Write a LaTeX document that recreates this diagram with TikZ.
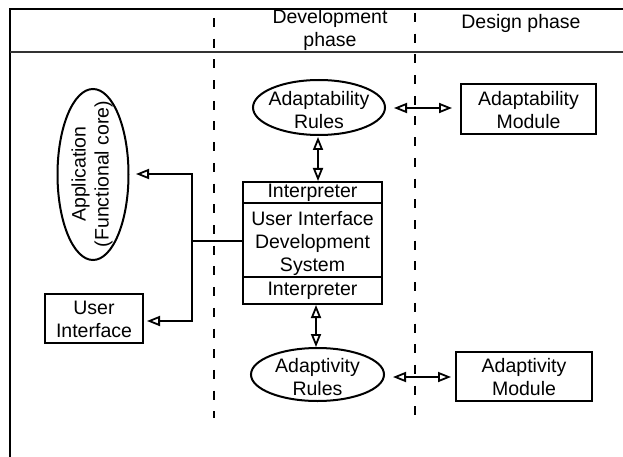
\documentclass[tikz,border=0pt]{standalone}
\usepackage{fontspec}
\setmainfont{Liberation Sans}
\usetikzlibrary{arrows.meta,shapes.geometric}
\begin{document}
\begin{tikzpicture}[x=1pt,y=-1pt,
  txt/.style={font=\fontsize{19.5}{23}\selectfont, align=center, inner sep=0pt},
  boxnode/.style={draw, line width=2pt, rectangle, inner sep=0pt},
  ell/.style={draw, line width=2pt, ellipse, inner sep=0pt},
  arr/.style={line width=2pt, -{Triangle[open, length=13pt, width=10pt, line width=1.8pt]}},
  darr/.style={line width=2pt, {Triangle[open, length=13pt, width=10pt, line width=1.8pt]}-{Triangle[open, length=13pt, width=10pt, line width=1.8pt]}},
  phase/.style={line width=2.2pt, dash pattern=on 9pt off 11.7pt}]
\useasboundingbox (0,0) rectangle (623,457);
% frame
\draw[line width=2.8pt] (623,9) -- (10,9) -- (10,457);
\draw[line width=1.8pt, black!80] (10,52) -- (623,52);
% phase separators
\coordinate (d1top) at (214,18);
\coordinate (d1bot) at (214,418);
\coordinate (d2top) at (415,13);
\coordinate (d2bot) at (415,422);
\draw[phase] (d1top) -- (d1bot);
\draw[phase] (d2top) -- (d2bot);
% headers
\node[txt] (hdev) at (330,30) {Development\\phase};
\node[txt] (hdes) at (521,23) {Design phase};
% left side
\node[ell, rotate=90, minimum width=171pt, minimum height=71pt] (app) at (93,174.5) {};
\node[txt, rotate=90] (apptxt) at (92,174) {Application\\(Functional core)};
\node[boxnode, minimum width=98pt, minimum height=49pt] (ui) at (94,318.5) {};
\node[txt] (uitxt) at (94,319) {User\\Interface};
% central system
\node[boxnode, minimum width=139pt, minimum height=122pt] (uids) at (312.5,243) {};
\draw[line width=2pt] (243,203) -- (382,203);
\draw[line width=2pt] (243,277) -- (382,277);
\node[txt] (int1) at (312.5,193) {Interpreter};
\node[txt] (uidstxt) at (312.5,243) {User Interface\\Development\\System};
\node[txt] (int2) at (312.5,291) {Interpreter};
% rules
\node[ell, minimum width=132pt, minimum height=55pt] (arules) at (319,107.5) {};
\node[txt] (artxt) at (319,110) {Adaptability\\Rules};
\node[ell, minimum width=133pt, minimum height=53pt] (vrules) at (317.5,374.5) {};
\node[txt] (vrtxt) at (317.5,377) {Adaptivity\\Rules};
% modules
\node[boxnode, minimum width=135pt, minimum height=50pt] (amod) at (528.5,109) {};
\node[txt] (amtxt) at (528.5,110) {Adaptability\\Module};
\node[boxnode, minimum width=136pt, minimum height=49pt] (vmod) at (524,376.5) {};
\node[txt] (vmtxt) at (524,377) {Adaptivity\\Module};
% connectors
\coordinate (junc) at (192,241);
\coordinate (appin) at (136,174);
\coordinate (uiin) at (147,321);
\draw[line width=2pt] (uids.west |- junc) -- (junc);
\draw[arr] (junc) |- (appin);
\draw[arr] (junc) |- (uiin);
\draw[darr, shorten <=1pt] (arules.south -| 318,0) -- (uids.north -| 318,0);
\draw[darr] (uids.south -| 316,0) -- (vrules.north -| 316,0);
\draw[darr, shorten <=8pt, shorten >=8pt] (arules.east |- 0,108) -- (amod.west |- 0,108);
\draw[darr, shorten <=8pt, shorten >=4pt] (vrules.east |- 0,377) -- (vmod.west |- 0,377);
\end{tikzpicture}
\end{document}
